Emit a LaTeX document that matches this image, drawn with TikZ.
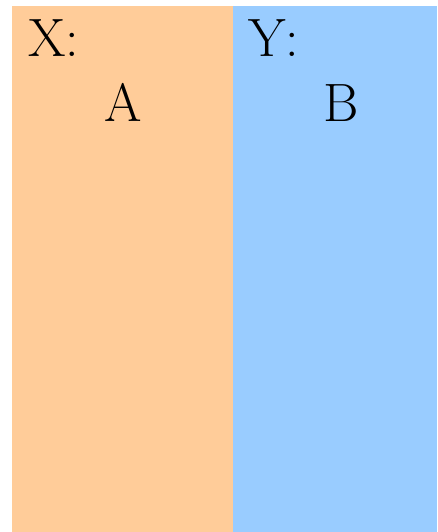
\documentclass[tikz,border=0pt]{standalone}
\usetikzlibrary{positioning}
\definecolor{peach}{RGB}{255,204,153}
\definecolor{sky}{RGB}{153,204,255}

\begin{document}
\begin{tikzpicture}[x=1pt,y=1pt,every node/.style={inner sep=0pt,outer sep=0pt},
panel/.style={draw=none,minimum height=526pt,anchor=south west},
lbl/.style={font=\fontsize{54}{60}\selectfont}]
\useasboundingbox (0,0) rectangle (437,532);
\node[panel,fill=peach,minimum width=221pt] (px) at (12,0) {}; \node[panel,fill=sky,minimum width=204pt] (py) at (233,0) {};
\node[lbl,anchor=base west] (lx) at ([xshift=16pt,yshift=-51pt]px.north west) {X:}; \node[lbl,anchor=base] (la) at ([xshift=111pt,yshift=-116pt]px.north west) {A};
\node[lbl,anchor=base west] (ly) at ([xshift=15pt,yshift=-51pt]py.north west) {Y:}; \node[lbl,anchor=base] (lb) at ([xshift=108pt,yshift=-116pt]py.north west) {B};
\end{tikzpicture}
\end{document}
